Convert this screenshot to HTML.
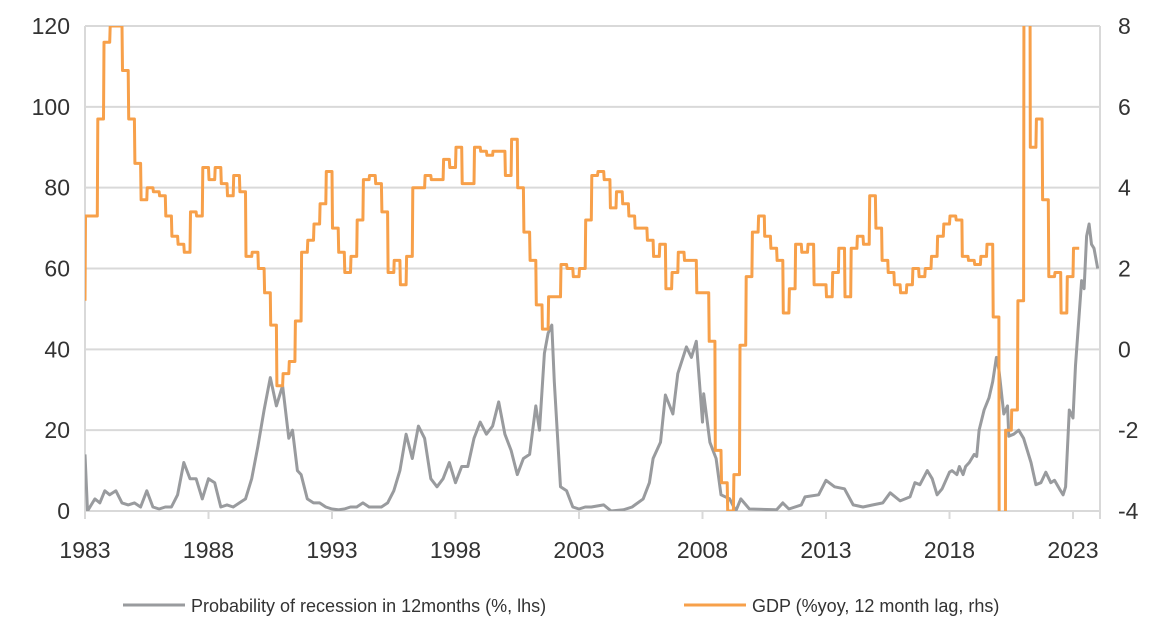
<!DOCTYPE html>
<html><head><meta charset="utf-8"><style>
html,body{margin:0;padding:0;background:#fff;width:1176px;height:624px;overflow:hidden;}
svg{display:block;font-family:"Liberation Sans",sans-serif;}
</style></head><body>
<svg id="chart" width="1176" height="624" viewBox="0 0 1176 624" xmlns="http://www.w3.org/2000/svg">
<g id="grid"></g>
<g id="axes"></g>
<g id="series"></g>
<g id="legend">
  <line x1="123" y1="605" x2="185" y2="605" stroke="#999b9e" stroke-width="3"/>
  <text x="191" y="612" font-size="18" fill="#333">Probability of recession in 12months (%, lhs)</text>
  <line x1="684" y1="605" x2="746" y2="605" stroke="#f7a04a" stroke-width="3"/>
  <text x="752" y="612" font-size="18" fill="#333">GDP (%yoy, 12 month lag, rhs)</text>
</g>
</svg>
<script>
const leftTicks=[0,20,40,60,80,100,120];
const rightTicks=[-4,-2,0,2,4,6,8];
const yearTicks=[1983,1988,1993,1998,2003,2008,2013,2018,2023];
// GDP quarterly values starting 1983 Q1 (step series)
const gdpStart=1983.0;
const gdpValues=[3.3,3.3,5.7,7.6,8.0,8.0,6.9,5.7,4.6,3.7,4.0,3.9,3.8,3.3,2.8,2.6,2.4,3.4,3.3,4.5,4.2,4.5,4.1,3.8,4.3,3.9,2.3,2.4,2.0,1.4,0.6,-0.9,-0.6,-0.3,0.7,2.4,2.7,3.1,3.6,4.4,3.0,2.4,1.9,2.3,3.2,4.2,4.3,4.1,3.4,1.9,2.2,1.6,2.3,4.0,4.0,4.3,4.2,4.2,4.7,4.5,5.0,4.1,4.1,5.0,4.9,4.8,4.9,4.9,4.3,5.2,4.0,2.9,2.2,1.1,0.5,1.3,1.3,2.1,2.0,1.8,2.0,3.2,4.3,4.4,4.2,3.5,3.9,3.6,3.3,3.0,3.0,2.7,2.3,2.6,1.5,1.9,2.4,2.2,2.2,1.4,1.4,0.2,-2.5,-3.3,-4.0,-3.1,0.1,1.8,2.9,3.3,2.8,2.5,2.2,0.9,1.5,2.6,2.4,2.6,1.6,1.6,1.3,1.9,2.5,1.3,2.5,2.8,2.6,3.8,3.0,2.2,1.9,1.6,1.4,1.6,2.0,1.8,2.0,2.3,2.8,3.1,3.3,3.2,2.3,2.2,2.1,2.3,2.6,0.8,-9,-2.0,-1.5,1.2,12,5.0,5.7,3.7,1.8,1.9,0.9,1.8,2.5];
// Recession probability
const recDates=[1983.0,1983.1,1983.4,1983.6,1983.8,1984.0,1984.25,1984.5,1984.75,1985.0,1985.25,1985.5,1985.75,1986.0,1986.25,1986.5,1986.75,1987.0,1987.25,1987.5,1987.75,1988.0,1988.25,1988.5,1988.75,1989.0,1989.25,1989.5,1989.75,1990.0,1990.25,1990.5,1990.75,1991.0,1991.25,1991.4,1991.6,1991.75,1992.0,1992.25,1992.5,1992.75,1993.0,1993.25,1993.5,1993.75,1994.0,1994.25,1994.5,1994.75,1995.0,1995.25,1995.5,1995.75,1996.0,1996.25,1996.5,1996.75,1997.0,1997.25,1997.5,1997.75,1998.0,1998.25,1998.5,1998.75,1999.0,1999.25,1999.5,1999.75,2000.0,2000.25,2000.5,2000.75,2001.0,2001.25,2001.4,2001.6,2001.75,2001.9,2002.0,2002.25,2002.5,2002.75,2003.0,2003.25,2003.5,2004.0,2004.3,2004.8,2005.15,2005.6,2005.85,2006.0,2006.3,2006.5,2006.8,2007.0,2007.35,2007.55,2007.75,2008.0,2008.05,2008.3,2008.55,2008.75,2009.1,2009.35,2009.55,2009.9,2011.0,2011.25,2011.5,2012.0,2012.15,2012.7,2013.0,2013.35,2013.75,2014.1,2014.5,2014.9,2015.3,2015.6,2016.0,2016.4,2016.6,2016.8,2017.1,2017.3,2017.5,2017.7,2018.0,2018.1,2018.3,2018.4,2018.55,2018.65,2018.8,2019.0,2019.1,2019.2,2019.4,2019.6,2019.75,2019.9,2020.0,2020.2,2020.35,2020.4,2020.6,2020.8,2021.0,2021.15,2021.3,2021.5,2021.7,2021.9,2022.1,2022.25,2022.45,2022.6,2022.7,2022.85,2023.0,2023.1,2023.35,2023.45,2023.55,2023.65,2023.75,2023.85,2024.0];
const recValues=[14,0,3,2,5,4,5,2,1.5,2,1,5,1,0.5,1,1,4,12,8,8,3,8,7,1,1.5,1,2,3,8,16,25,33,26,31,18,20,10,9,3,2,2,1,0.5,0.3,0.5,1,1,2,1,1,1,2,5,10,19,13,21,18,8,6,8,12,7,11,11,18,22,19,21,27,19,15,9,13,14,26,20,39,44,46,32,6,5,1,0.5,1,1,1.5,0,0.3,1,3,7,13,17,28.7,24,34,40.6,38,42,22,29,17,13,4,3,0,3,0.5,0.3,2,0.5,1.5,3.5,4,7.6,6,5.5,1.5,1,1.5,2,4.5,2.5,3.5,7,6.5,10,8,4,5.5,9.6,10,9,11,9,11,12,14,13.5,20,25,28,32,38,35,24,26,18.5,19,20,18,15,12,6.5,7,9.6,7,7.6,5.5,4,6,25,23,36,57,55,68,71,66,65,60];

const X0=85,X1=1100,YEAR0=1983,PXY=24.7,YB=511,YT=26;
const xs=y=>X0+(y-YEAR0)*PXY;
const yl=v=>YB-(v/120)*(YB-YT);
const yr=v=>YB-((v+4)/12)*(YB-YT);
const NS="http://www.w3.org/2000/svg";
function mk(tag,attrs,parent){const e=document.createElementNS(NS,tag);for(const k in attrs)e.setAttribute(k,attrs[k]);parent.appendChild(e);return e;}
const grid=document.getElementById('grid'),axes=document.getElementById('axes'),series=document.getElementById('series');
leftTicks.forEach(t=>{
  const l=mk('line',{x1:X0,x2:X1,y1:yl(t),y2:yl(t),stroke:'#d9d9d9','stroke-width':2},grid);
  
  
  const tx=mk('text',{x:70,y:yl(t)+8,'text-anchor':'end','font-size':23,fill:'#333'},axes);
  tx.textContent=t;
  
  
});
rightTicks.forEach(t=>{
  const tx=mk('text',{x:1118,y:yr(t)+8,'font-size':23,fill:'#333'},axes);
  tx.textContent=t;
  
  
});
const la=mk('line',{x1:X0,x2:X0,y1:YT,y2:YB+8,stroke:'#d9d9d9','stroke-width':2},axes);


const ra=mk('line',{x1:X1,x2:X1,y1:YT,y2:YB+8,stroke:'#d9d9d9','stroke-width':2},axes);


yearTicks.forEach(yv=>{
  const tk=mk('line',{x1:xs(yv),x2:xs(yv),y1:YB,y2:YB+8,stroke:'#d9d9d9','stroke-width':2},axes);
  
  
  const tx=mk('text',{x:xs(yv),y:558,'text-anchor':'middle','font-size':23,fill:'#333'},axes);
  tx.textContent=yv;
  
  
});
mk('clipPath',{id:'clip'},document.getElementById('chart'));
mk('rect',{x:X0,y:YT,width:X1-X0,height:YB-YT},document.getElementById('clip'));
let d='';
recDates.forEach((t,i)=>{d+=(i?'L':'M')+xs(t).toFixed(1)+','+yl(recValues[i]).toFixed(1);});
const rp=mk('path',{d:d,fill:'none',stroke:'#999b9e','stroke-width':3,'stroke-linejoin':'round','clip-path':'url(#clip)'},series);


let g='M'+xs(gdpStart).toFixed(1)+','+yr(1.2).toFixed(1);
gdpValues.forEach((v,i)=>{const t0=gdpStart+i*0.25,t1=t0+0.25;
  g+='L'+xs(t0+0.02).toFixed(1)+','+yr(v).toFixed(1)+'L'+xs(t1).toFixed(1)+','+yr(v).toFixed(1);});
const gp=mk('path',{d:g,fill:'none',stroke:'#f7a04a','stroke-width':3,'stroke-linejoin':'round','clip-path':'url(#clip)'},series);


</script>
</body></html>
